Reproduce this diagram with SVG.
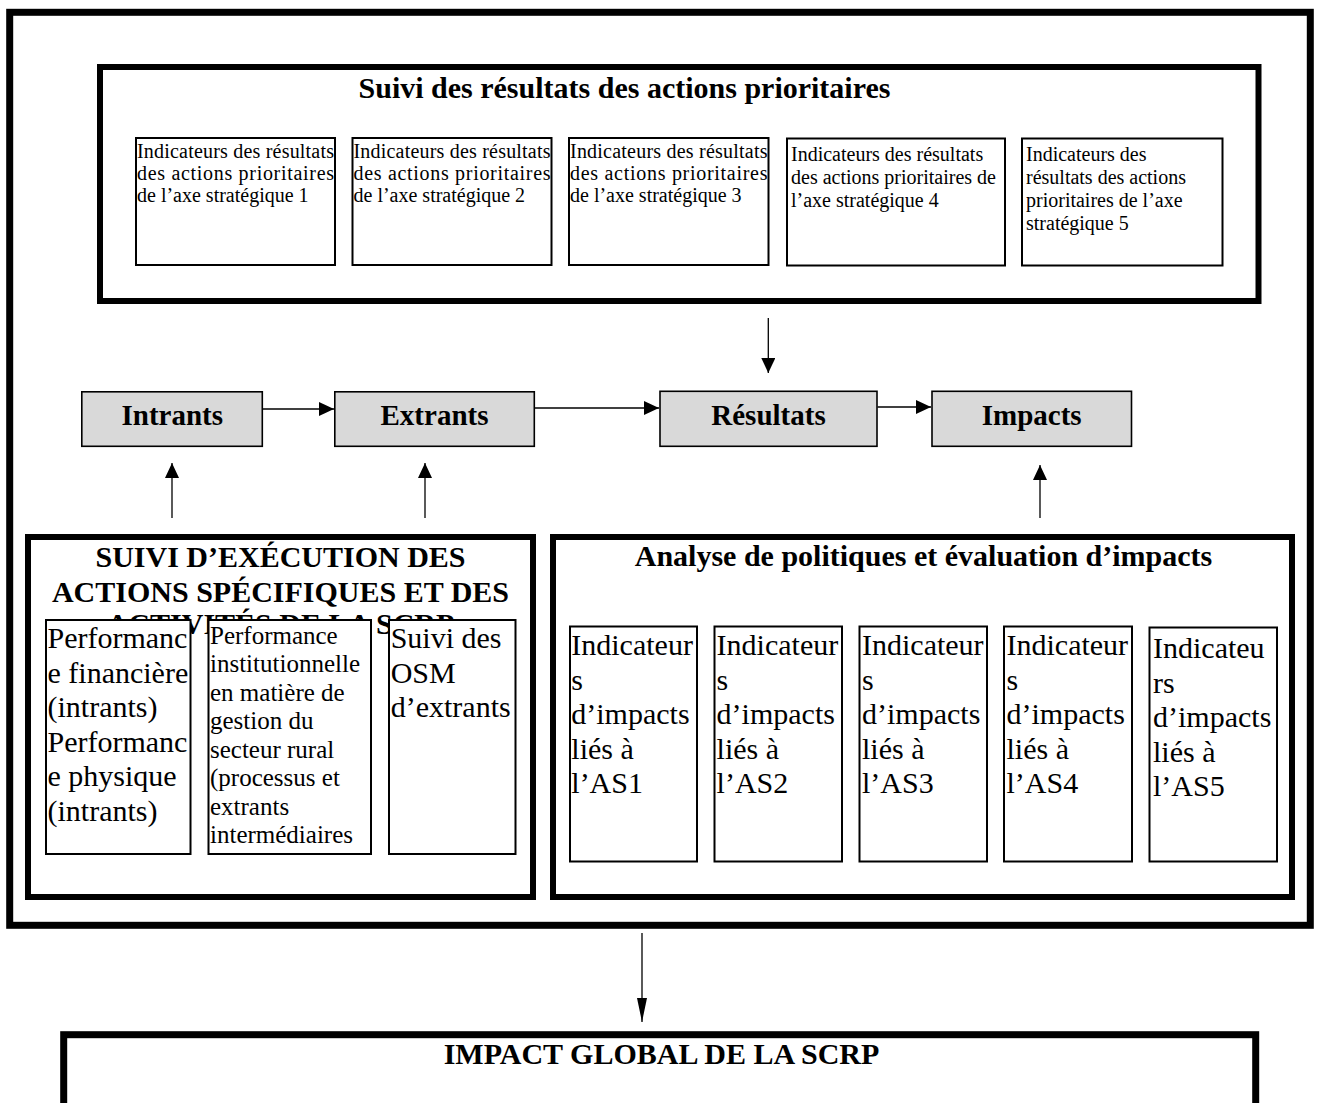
<svg xmlns="http://www.w3.org/2000/svg" width="1317" height="1103" viewBox="0 0 1317 1103">
<style>
text{font-family:"Liberation Serif","Times New Roman",serif;fill:#000}
.t30b{font-size:30px;font-weight:bold}
.t29b{font-size:29px;font-weight:bold}
.t20{font-size:20px}
.t30{font-size:30px}
.t25{font-size:25px}
.frame{fill:none;stroke:#000;stroke-width:7}
.big{fill:#fff;stroke:#000;stroke-width:6}
.small{fill:#fff;stroke:#000;stroke-width:2}
.grey{fill:#d9d9d9;stroke:#000;stroke-width:1.6}
.conn{stroke:#000;stroke-width:1.3;fill:none}
</style>
<defs>
<marker id="ah" markerUnits="userSpaceOnUse" markerWidth="15" markerHeight="14" refX="15" refY="7" orient="auto">
<path d="M0,0 L15,7 L0,14 z" fill="#000"/>
</marker>
<marker id="ahl" markerUnits="userSpaceOnUse" markerWidth="24" markerHeight="10" refX="24" refY="5" orient="auto">
<path d="M0,0 L24,5 L0,10 z" fill="#000"/>
</marker>
</defs>
<rect x="0" y="0" width="1317" height="1103" fill="#fff"/>

<g id="outer-frame">
<rect class="frame" x="9.7" y="12.3" width="1300.6" height="913"/>
</g>

<g id="suivi-resultats">
<rect class="big" x="100" y="67" width="1158.5" height="234"/>
<text class="t30b" x="624.5" y="98" text-anchor="middle">Suivi des résultats des actions prioritaires</text>
</g>

<g id="ind-res-1">
<rect class="small" x="136" y="138" width="199" height="127"/>
<text class="t20" x="137" y="158" textLength="197" lengthAdjust="spacing">Indicateurs des résultats</text>
<text class="t20" x="137" y="180" textLength="197" lengthAdjust="spacing">des actions prioritaires</text>
<text class="t20" x="137" y="202">de l’axe stratégique 1</text>
</g>
<g id="ind-res-2">
<rect class="small" x="352.5" y="138" width="199" height="127"/>
<text class="t20" x="353.5" y="158" textLength="197" lengthAdjust="spacing">Indicateurs des résultats</text>
<text class="t20" x="353.5" y="180" textLength="197" lengthAdjust="spacing">des actions prioritaires</text>
<text class="t20" x="353.5" y="202">de l’axe stratégique 2</text>
</g>
<g id="ind-res-3">
<rect class="small" x="569" y="138" width="199.5" height="127"/>
<text class="t20" x="570" y="158" textLength="197.5" lengthAdjust="spacing">Indicateurs des résultats</text>
<text class="t20" x="570" y="180" textLength="197.5" lengthAdjust="spacing">des actions prioritaires</text>
<text class="t20" x="570" y="202">de l’axe stratégique 3</text>
</g>
<g id="ind-res-4">
<rect class="small" x="787" y="138.5" width="218" height="127"/>
<text class="t20" x="791" y="161">Indicateurs des résultats</text>
<text class="t20" x="791" y="184">des actions prioritaires de</text>
<text class="t20" x="791" y="207">l’axe stratégique 4</text>
</g>
<g id="ind-res-5">
<rect class="small" x="1022" y="138.5" width="200.5" height="127"/>
<text class="t20" x="1026" y="161">Indicateurs des</text>
<text class="t20" x="1026" y="184">résultats des actions</text>
<text class="t20" x="1026" y="207">prioritaires de l’axe</text>
<text class="t20" x="1026" y="230">stratégique 5</text>
</g>

<g id="intrants">
<rect class="grey" x="81.8" y="391.8" width="180.5" height="54.5"/>
<text class="t29b" x="172.3" y="424.5" text-anchor="middle">Intrants</text>
</g>
<g id="extrants">
<rect class="grey" x="334.8" y="391.8" width="199.5" height="54.5"/>
<text class="t29b" x="434.5" y="424.5" text-anchor="middle">Extrants</text>
</g>
<g id="resultats">
<rect class="grey" x="660" y="391.3" width="217" height="55"/>
<text class="t29b" x="768.5" y="425" text-anchor="middle">Résultats</text>
</g>
<g id="impacts">
<rect class="grey" x="932" y="391.3" width="199.5" height="55"/>
<text class="t29b" x="1031.7" y="425" text-anchor="middle">Impacts</text>
</g>

<g id="suivi-execution">
<rect class="big" x="28" y="537" width="505" height="360"/>
<text class="t30b" x="280.5" y="567" text-anchor="middle">SUIVI D’EXÉCUTION DES</text>
<text class="t30b" x="280.5" y="601.5" text-anchor="middle">ACTIONS SPÉCIFIQUES ET DES</text>
<text class="t30b" x="280.5" y="634" text-anchor="middle">ACTIVITÉS DE LA SCRP</text>
</g>
<g id="perf-financiere">
<rect class="small" x="46" y="620" width="144.5" height="234"/>
<text class="t30" x="47.5" y="648">Performanc</text>
<text class="t30" x="47.5" y="682.5">e financière</text>
<text class="t30" x="47.5" y="717">(intrants)</text>
<text class="t30" x="47.5" y="751.5">Performanc</text>
<text class="t30" x="47.5" y="786">e physique</text>
<text class="t30" x="47.5" y="820.5">(intrants)</text>
</g>
<g id="perf-institutionnelle">
<rect class="small" x="208.5" y="620" width="162.5" height="234"/>
<text class="t25" x="210" y="643.5">Performance</text>
<text class="t25" x="210" y="672">institutionnelle</text>
<text class="t25" x="210" y="700.5">en matière de</text>
<text class="t25" x="210" y="729">gestion du</text>
<text class="t25" x="210" y="757.5">secteur rural</text>
<text class="t25" x="210" y="786">(processus et</text>
<text class="t25" x="210" y="814.5">extrants</text>
<text class="t25" x="210" y="843">intermédiaires</text>
</g>
<g id="suivi-osm">
<rect class="small" x="389" y="620" width="126.5" height="234"/>
<text class="t30" x="390.7" y="648">Suivi des</text>
<text class="t30" x="390.7" y="682.5">OSM</text>
<text class="t30" x="390.7" y="717">d’extrants</text>
</g>

<g id="analyse-politiques">
<rect class="big" x="553" y="537" width="739" height="360"/>
<text class="t30b" x="923.5" y="566" text-anchor="middle">Analyse de politiques et évaluation d’impacts</text>
</g>
<g id="ind-imp-1">
<rect class="small" x="570" y="626.5" width="127" height="235"/>
<text class="t30" x="571.3" y="655">Indicateur</text>
<text class="t30" x="571.3" y="690">s</text>
<text class="t30" x="571.3" y="724">d’impacts</text>
<text class="t30" x="571.3" y="759">liés à</text>
<text class="t30" x="571.3" y="793">l’AS1</text>
</g>
<g id="ind-imp-2">
<rect class="small" x="714.5" y="626.5" width="127.5" height="235"/>
<text class="t30" x="716.6" y="655">Indicateur</text>
<text class="t30" x="716.6" y="690">s</text>
<text class="t30" x="716.6" y="724">d’impacts</text>
<text class="t30" x="716.6" y="759">liés à</text>
<text class="t30" x="716.6" y="793">l’AS2</text>
</g>
<g id="ind-imp-3">
<rect class="small" x="859.5" y="626.5" width="127.5" height="235"/>
<text class="t30" x="862" y="655">Indicateur</text>
<text class="t30" x="862" y="690">s</text>
<text class="t30" x="862" y="724">d’impacts</text>
<text class="t30" x="862" y="759">liés à</text>
<text class="t30" x="862" y="793">l’AS3</text>
</g>
<g id="ind-imp-4">
<rect class="small" x="1004" y="626.5" width="128" height="235"/>
<text class="t30" x="1006.5" y="655">Indicateur</text>
<text class="t30" x="1006.5" y="690">s</text>
<text class="t30" x="1006.5" y="724">d’impacts</text>
<text class="t30" x="1006.5" y="759">liés à</text>
<text class="t30" x="1006.5" y="793">l’AS4</text>
</g>
<g id="ind-imp-5">
<rect class="small" x="1149.5" y="627.5" width="127.5" height="234"/>
<text class="t30" x="1153" y="658">Indicateu</text>
<text class="t30" x="1153" y="693">rs</text>
<text class="t30" x="1153" y="727">d’impacts</text>
<text class="t30" x="1153" y="762">liés à</text>
<text class="t30" x="1153" y="796">l’AS5</text>
</g>

<g id="impact-global">
<rect class="frame" x="63.7" y="1034.7" width="1192" height="120"/>
<text class="t30b" x="661.5" y="1064" text-anchor="middle">IMPACT GLOBAL DE LA SCRP</text>
</g>

<g id="connectors">
<path class="conn" d="M262.7,409 L334,409" marker-end="url(#ah)"/>
<path class="conn" d="M534.5,408 L659,408" marker-end="url(#ah)"/>
<path class="conn" d="M877.5,407 L931,407" marker-end="url(#ah)"/>
<path class="conn" d="M768.3,318 L768.3,373" marker-end="url(#ah)"/>
<path class="conn" d="M172,518 L172,463" marker-end="url(#ah)"/>
<path class="conn" d="M425,518 L425,463" marker-end="url(#ah)"/>
<path class="conn" d="M1040,518 L1040,465" marker-end="url(#ah)"/>
<path class="conn" d="M642,933 L642,1022" marker-end="url(#ahl)"/>
</g>
</svg>
